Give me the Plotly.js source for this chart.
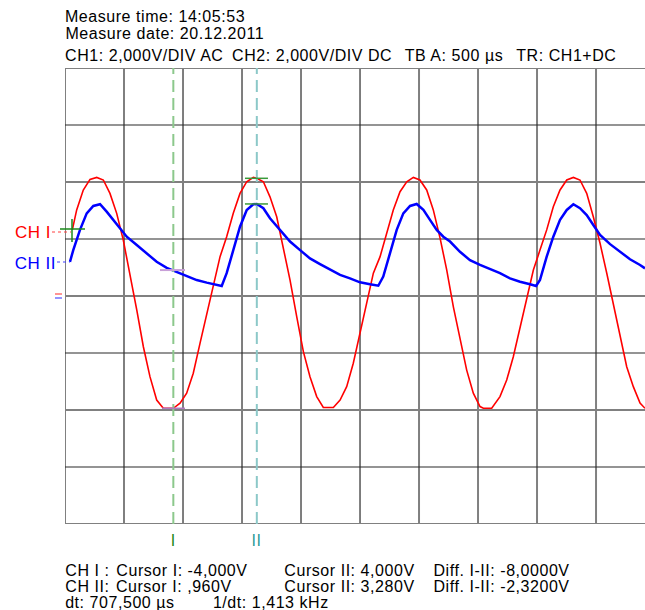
<!DOCTYPE html>
<html>
<head>
<meta charset="utf-8">
<script src="https://cdn.plot.ly/plotly-3.0.1.min.js"></script>
<style>
html,body{margin:0;padding:0;background:#fff;overflow:hidden;}
#chart{width:645px;height:610px;}
#chart .annotation-text{letter-spacing:0.55px;}
</style>
</head>
<body>
<div id="chart"></div>
<script>
// Time in microseconds, voltage in volts (2 V/div, 500 us/div)
var tRed = [62,99,155,212,269,325,381,438,494,551,608,664,720,777,833,918,975,1031,1087,1144,1201,1257,1314,1370,1426,1483,1540,1596,1625,1681,1737,1794,1850,1907,1964,2020,2076,2133,2189,2274,2331,2387,2443,2500,2557,2613,2670,2726,2782,2839,2896,2952,3008,3065,3121,3178,3235,3291,3347,3404,3460,3517,3545,3616,3686,3743,3799,3856,3913,3969,4025,4082,4138,4195,4252,4308,4364,4421,4477,4534,4591,4647,4703,4760,4816,4873,4915];
var vRed = [2.32,3.02,3.72,4.09,4.16,4.07,3.60,2.90,1.96,0.80,-0.49,-1.78,-2.83,-3.65,-3.94,-3.94,-3.76,-3.41,-2.71,-1.66,-0.61,0.45,1.38,2.08,2.90,3.60,4.01,4.16,4.13,4.01,3.48,2.78,1.73,0.56,-0.73,-1.95,-2.83,-3.53,-3.91,-3.91,-3.65,-3.18,-2.36,-1.31,-0.26,0.80,1.38,2.20,3.02,3.66,4.01,4.16,4.07,3.72,3.02,2.04,0.91,-0.38,-1.54,-2.60,-3.41,-3.88,-3.94,-3.94,-3.53,-2.95,-2.13,-1.08,-0.02,0.91,1.61,2.32,3.13,3.72,4.07,4.16,4.07,3.60,2.78,1.85,0.80,-0.26,-1.43,-2.48,-3.18,-3.76,-3.94];

var tBlue = [42,70,127,184,240,297,353,409,466,523,608,692,777,862,947,1031,1116,1201,1286,1328,1370,1426,1483,1540,1596,1625,1681,1737,1822,1907,1992,2076,2161,2246,2331,2415,2500,2585,2655,2697,2754,2811,2867,2924,2980,3037,3093,3150,3206,3263,3347,3432,3517,3602,3686,3771,3856,3941,3992,4025,4082,4138,4195,4252,4308,4364,4421,4477,4534,4619,4703,4788,4873,4915];
var vBlue = [1.20,1.61,2.32,2.90,3.16,3.22,2.96,2.67,2.34,2.08,1.79,1.50,1.20,0.99,0.85,0.70,0.56,0.47,0.39,0.35,0.80,1.61,2.43,3.02,3.22,3.23,3.08,2.73,2.32,1.91,1.61,1.32,1.12,0.94,0.74,0.62,0.48,0.41,0.36,0.68,1.50,2.32,2.90,3.16,3.23,3.02,2.67,2.32,2.08,1.91,1.55,1.26,1.09,0.94,0.80,0.62,0.50,0.41,0.35,0.56,1.38,2.08,2.67,3.02,3.22,3.08,2.84,2.49,2.14,1.82,1.55,1.29,1.09,0.97];

var gridT = [0,500,1000,1500,2000,2500,3000,3500,4000,4500];
var gridV = [-8,-6,-4,-2,0,2,4,6,8];
var cursorI = 918;
var cursorII = 1625.5;

var topLines = ["Measure time: 14:05:53","Measure date: 20.12.2011"];
var infoLine = ["CH1: 2,000V/DIV AC","CH2: 2,000V/DIV DC","TB A: 500 µs","TR: CH1+DC"];
var bottomRows = [
  ["CH I :","Cursor I: -4,000V","Cursor II: 4,000V","Diff. I-II: -8,0000V"],
  ["CH II:","Cursor I: ,960V","Cursor II: 3,280V","Diff. I-II: -2,3200V"]
];
var dtRow = ["dt: 707,500 µs","1/dt: 1,413 kHz"];

// pixel helpers for decorations (plot area: x 65..645, y 68..524)
function px(x){return (x-65)/580;}
function py(y){return (524-y)/456;}

var FONT = 'Liberation Sans, Arial, sans-serif';
var LS = 0.55;
var ann = [];
function txt(s,x,y,col,size){
  ann.push({text:s,xref:'paper',yref:'paper',x:px(x),y:py(y),xanchor:'left',yanchor:'middle',
    xshift:LS*s.length/2,
    showarrow:false,font:{family:FONT,size:size||16,color:col||'#000'},borderpad:0});
}
txt(topLines[0],64,17);
txt(topLines[1],64,33);
var infoX=[64,231,404,515];
infoLine.forEach(function(s,i){txt(s,infoX[i],56);});
var colX=[64,115,283,432];
bottomRows.forEach(function(r,j){r.forEach(function(s,i){txt(s,colX[i],570+16*j);});});
txt(dtRow[0],64,602); txt(dtRow[1],212,602);
txt("CH I",14,233,'#ff0000',17);
txt("CH II",14,263,'#0000ff',17);
ann.push({text:"I",xref:'x',yref:'paper',x:cursorI,y:py(540),xanchor:'center',yanchor:'middle',showarrow:false,font:{family:FONT,size:16,color:'#1a8a1a'}});
ann.push({text:"II",xref:'x',yref:'paper',x:cursorII,y:py(540),xanchor:'center',yanchor:'middle',showarrow:false,font:{family:FONT,size:16,color:'#2a9a9a'}});

var shapes = [];
// grid
var darkV = [false,true,true,true,true,true,false,false,false,false];
gridT.forEach(function(t,i){
  shapes.push({type:'line',xref:'x',yref:'paper',x0:t,x1:t,y0:0,y1:1,layer:'below',
    line:{color:darkV[i]?'#2a2a2a':'#808080',width:darkV[i]?1.2:2}});
});
gridV.forEach(function(v,i){
  var dark = (i%2===1);
  shapes.push({type:'line',xref:'paper',yref:'y',x0:0,x1:1,y0:v,y1:v,layer:'below',
    line:{color:dark?'#2a2a2a':'#808080',width:dark?1.2:2}});
});
// cursors
shapes.push({type:'line',xref:'x',yref:'paper',x0:cursorI,x1:cursorI,y0:0,y1:1,line:{color:'#8cc88c',width:2,dash:'12px,6px'}});
shapes.push({type:'line',xref:'x',yref:'paper',x0:cursorII,x1:cursorII,y0:0,y1:1,line:{color:'#8cc8c8',width:2,dash:'12px,6px'}});
// cursor crossing marks
shapes.push({type:'line',xref:'x',yref:'y',x0:1525,x1:1720,y0:4.13,y1:4.13,line:{color:'#3a9a3a',width:1.5}});
shapes.push({type:'line',xref:'x',yref:'y',x0:1525,x1:1720,y0:3.23,y1:3.23,line:{color:'#3a9a3a',width:1.5}});
shapes.push({type:'line',xref:'x',yref:'y',x0:822,x1:1017,y0:-3.94,y1:-3.94,line:{color:'#b07ac0',width:1.5}});
shapes.push({type:'line',xref:'x',yref:'y',x0:805,x1:1017,y0:0.91,y1:0.91,line:{color:'#c8a0d8',width:2}});
// label leader dotted lines
shapes.push({type:'line',xref:'paper',yref:'paper',x0:px(52),x1:px(71),y0:py(232),y1:py(232),line:{color:'#ff4040',width:1,dash:'dot'}});
shapes.push({type:'line',xref:'paper',yref:'paper',x0:px(57),x1:px(70),y0:py(262),y1:py(262),line:{color:'#4040ff',width:1,dash:'dot'}});
// ground markers
shapes.push({type:'line',xref:'paper',yref:'paper',x0:px(55),x1:px(62),y0:py(294),y1:py(294),line:{color:'#ff7070',width:1.5}});
shapes.push({type:'line',xref:'paper',yref:'paper',x0:px(55),x1:px(62),y0:py(298),y1:py(298),line:{color:'#7070ff',width:1.5}});
// trigger cross
shapes.push({type:'line',xref:'paper',yref:'paper',x0:px(60),x1:px(85),y0:py(229),y1:py(229),line:{color:'#1a8a1a',width:1.5}});
shapes.push({type:'line',xref:'paper',yref:'paper',x0:px(72),x1:px(72),y0:py(219),y1:py(242),line:{color:'#1a8a1a',width:1.5}});

var traces = [
  {x:tRed,y:vRed,type:'scatter',mode:'lines',line:{color:'#ff0000',width:1.6},hoverinfo:'skip',cliponaxis:true},
  {x:tBlue,y:vBlue,type:'scatter',mode:'lines',line:{color:'#0000ff',width:2.5},hoverinfo:'skip',cliponaxis:true}
];

var layout = {
  width:645,height:610,
  margin:{l:65,r:0,t:68,b:86},
  paper_bgcolor:'#fff',plot_bgcolor:'#fff',
  showlegend:false,
  xaxis:{range:[0,4915],showgrid:false,zeroline:false,showticklabels:false,ticks:'',showline:false,fixedrange:true},
  yaxis:{range:[-8,8],showgrid:false,zeroline:false,showticklabels:false,ticks:'',showline:false,fixedrange:true},
  shapes:shapes,
  annotations:ann
};
Plotly.newPlot('chart',traces,layout,{staticPlot:true,displayModeBar:false});
</script>
</body>
</html>
